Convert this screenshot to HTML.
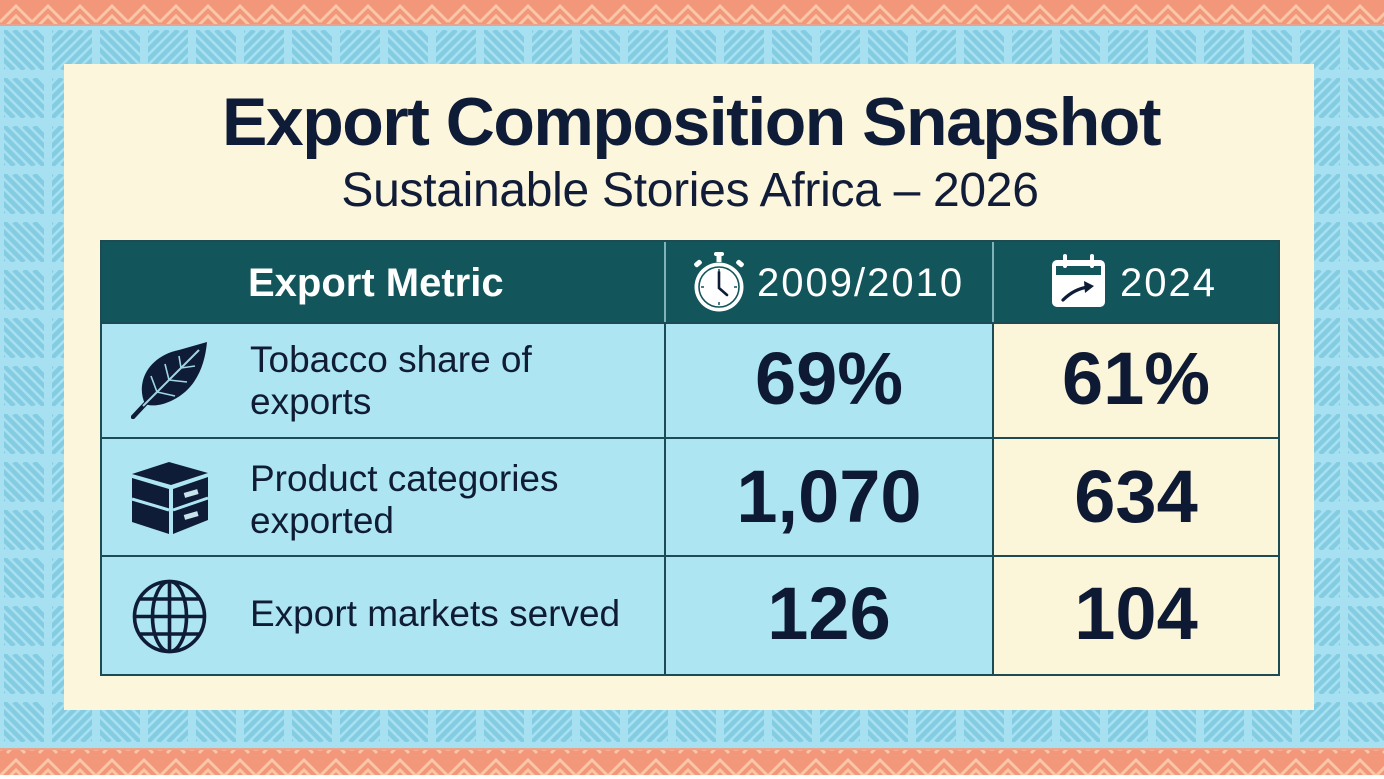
<!DOCTYPE html>
<html>
<head>
<meta charset="utf-8">
<style>
  html,body{margin:0;padding:0;}
  body{width:1384px;height:779px;position:relative;overflow:hidden;background:#ffffff;font-family:"Liberation Sans",Arial,sans-serif;}
  .abs{position:absolute;}
  .panel{left:64px;top:64px;width:1250px;height:646px;background:#fcf6dd;}
  .title{left:0;top:88px;width:1382px;text-align:center;font-size:68px;line-height:68px;font-weight:bold;color:#0f1c38;letter-spacing:-1.5px;white-space:nowrap;}
  .sub{left:0;top:167px;width:1380px;text-align:center;font-size:48px;line-height:48px;color:#111d38;letter-spacing:-0.3px;white-space:nowrap;}
  .tbl{left:100px;top:240px;width:1180px;height:436px;background:#1c4b53;}
  .hcell{background:#12555b;}
  .blue{background:#ade5f2;}
  .cream{background:#fbf5da;}
  .htxt{color:#ffffff;font-size:40px;line-height:40px;white-space:nowrap;}
  .lbl{left:250px;color:#101c33;font-size:37px;line-height:42px;white-space:nowrap;}
  .val{color:#0e1a33;font-size:74px;line-height:74px;font-weight:bold;text-align:center;white-space:nowrap;}
</style>
</head>
<body>

<svg class="abs" style="left:0;top:0" width="1384" height="779" viewBox="0 0 1384 779">
  <defs>
    <clipPath id="cA"><rect x="4" y="4" width="40" height="40"/></clipPath>
    <clipPath id="cB"><rect x="52" y="4" width="40" height="40"/></clipPath>
    <pattern id="bp" width="96" height="48" patternUnits="userSpaceOnUse" patternTransform="translate(0,26)">
      <rect width="96" height="48" fill="#a6e0f1"/>
      <g clip-path="url(#cA)" stroke="#84cce2" stroke-width="4.5">
        <path d="M-36 4L4 44M-26 4L14 44M-16 4L24 44M-6 4L34 44M4 4L44 44M14 4L54 44M24 4L64 44M34 4L74 44"/>
      </g>
      <g clip-path="url(#cB)" stroke="#84cce2" stroke-width="4.5">
        <path d="M12 44L52 4M22 44L62 4M32 44L72 4M42 44L82 4M52 44L92 4M62 44L102 4M72 44L112 4M82 44L122 4M92 44L132 4"/>
      </g>
    </pattern>
    <pattern id="op" width="32" height="26" patternUnits="userSpaceOnUse">
      <rect width="32" height="26" fill="#f3977a"/>
      <g fill="none" stroke="#f9c6a8" stroke-width="3">
        <polyline points="0,22 16,6 32,22"/>
        <polyline points="7,25 16,16 25,25"/>
      </g>
    </pattern>
  </defs>
  <rect x="0" y="25" width="1384" height="724" fill="url(#bp)"/>
  <rect x="0" y="0" width="1384" height="25" fill="url(#op)"/>
  <rect x="0" y="24" width="1384" height="2" fill="#e9a58c"/>
  <rect x="0" y="749" width="1384" height="26" fill="url(#op)"/>
  <rect x="0" y="748" width="1384" height="2" fill="#e9a58c"/>
</svg>

<div class="abs panel"></div>

<div class="abs title">Export Composition Snapshot</div>
<div class="abs sub">Sustainable Stories Africa – 2026</div>

<!-- table -->
<div class="abs tbl"></div>
<!-- header cells -->
<div class="abs hcell" style="left:102px;top:242px;width:562px;height:80px;"></div>
<div class="abs hcell" style="left:666px;top:242px;width:326px;height:80px;"></div>
<div class="abs hcell" style="left:994px;top:242px;width:284px;height:80px;"></div>
<div class="abs" style="left:664px;top:242px;width:2px;height:80px;background:#7fb3b8;"></div>
<div class="abs" style="left:992px;top:242px;width:2px;height:80px;background:#7fb3b8;"></div>
<!-- row 1 -->
<div class="abs blue" style="left:102px;top:324px;width:562px;height:113px;"></div>
<div class="abs blue" style="left:666px;top:324px;width:326px;height:113px;"></div>
<div class="abs cream" style="left:994px;top:324px;width:284px;height:113px;"></div>
<!-- row 2 -->
<div class="abs blue" style="left:102px;top:439px;width:562px;height:116px;"></div>
<div class="abs blue" style="left:666px;top:439px;width:326px;height:116px;"></div>
<div class="abs cream" style="left:994px;top:439px;width:284px;height:116px;"></div>
<!-- row 3 -->
<div class="abs blue" style="left:102px;top:557px;width:562px;height:117px;"></div>
<div class="abs blue" style="left:666px;top:557px;width:326px;height:117px;"></div>
<div class="abs cream" style="left:994px;top:557px;width:284px;height:117px;"></div>

<!-- header text -->
<div class="abs htxt" style="left:248px;top:263px;font-weight:bold;">Export Metric</div>

<svg class="abs" style="left:692px;top:252px" width="54" height="60" viewBox="0 0 54 60">
  <rect x="22" y="0" width="10" height="4" rx="2" fill="#fff"/>
  <rect x="24.5" y="2" width="5" height="8" fill="#fff"/>
  <rect x="2" y="9" width="8" height="5" rx="2" transform="rotate(-40 6 11.5)" fill="#fff"/>
  <rect x="44" y="9" width="8" height="5" rx="2" transform="rotate(40 48 11.5)" fill="#fff"/>
  <circle cx="27" cy="35" r="24.5" fill="#fff"/>
  <circle cx="27" cy="35" r="20" fill="none" stroke="#12555b" stroke-width="1.6"/>
  <path d="M27 20V36L35 43" fill="none" stroke="#0f1c38" stroke-width="2.6" stroke-linecap="round"/>
  <g stroke="#12555b" stroke-width="1.5">
    <path d="M27 17v3M27 50v3M9 35h3M42 35h3"/>
  </g>
</svg>
<div class="abs htxt" style="left:757px;top:263px;letter-spacing:2px;">2009/2010</div>

<svg class="abs" style="left:1051px;top:254px" width="55" height="54" viewBox="0 0 55 54">
  <rect x="1" y="6" width="53" height="47" rx="5" fill="#fff"/>
  <rect x="5" y="12" width="45" height="9" fill="#12555b"/>
  <rect x="12" y="0" width="4" height="14" rx="2" fill="#fff"/>
  <rect x="39" y="0" width="4" height="14" rx="2" fill="#fff"/>
  <path d="M12 46C20 38 28 34 38 33" fill="none" stroke="#0f1c38" stroke-width="3.2" stroke-linecap="round"/>
  <path d="M33 27L43 32L34 39Z" fill="#0f1c38"/>
</svg>
<div class="abs htxt" style="left:1120px;top:263px;letter-spacing:2px;">2024</div>

<!-- row labels -->
<svg class="abs" style="left:131px;top:342px" width="77" height="77" viewBox="0 0 77 77">
  <path d="M14 62C4 40 18 14 48 8L76 0C74 22 66 46 42 58C32 63 22 65 14 62Z" fill="#0f1c38"/>
  <path d="M2 75L16 60" stroke="#0f1c38" stroke-width="4.5" stroke-linecap="round"/>
  <path d="M12 64L68 8" stroke="#9fd6e6" stroke-width="2"/>
  <path d="M26 50L20 34M38 38L34 22M50 26L48 14M26 50L44 54M38 38L56 40M50 26L64 24" stroke="#9fd6e6" stroke-width="1.6" fill="none"/>
</svg>
<div class="abs lbl" style="top:339px;">Tobacco share of<br>exports</div>

<svg class="abs" style="left:131px;top:460px" width="78" height="76" viewBox="0 0 78 76">
  <polygon points="1,14 38,2 77,13 40,25" fill="#0f1c38"/>
  <polygon points="1,18 38,29 38,74 1,62" fill="#0f1c38"/>
  <polygon points="42,29 77,17 77,60 42,74" fill="#0f1c38"/>
  <path d="M1 39L38 50M42 50L77 38" stroke="#ade5f2" stroke-width="3"/>
  <rect x="53" y="31" width="14" height="5" fill="#c7e3ec" transform="rotate(-16 60 33)"/>
  <rect x="53" y="53" width="14" height="5" fill="#c7e3ec" transform="rotate(-16 60 55)"/>
</svg>
<div class="abs lbl" style="top:458px;">Product categories<br>exported</div>

<svg class="abs" style="left:131px;top:578px" width="77" height="77" viewBox="0 0 77 77">
  <g fill="none" stroke="#0f1c38" stroke-width="3.6">
    <circle cx="38.5" cy="38.5" r="35"/>
    <ellipse cx="38.5" cy="38.5" rx="17" ry="35"/>
    <path d="M38.5 3.5V73.5M3.5 38.5H73.5M8 21H69M8 56H69"/>
  </g>
</svg>
<div class="abs lbl" style="top:593px;">Export markets served</div>

<!-- values -->
<div class="abs val" style="left:666px;width:326px;top:342px;">69%</div>
<div class="abs val" style="left:994px;width:284px;top:342px;">61%</div>
<div class="abs val" style="left:666px;width:326px;top:460px;">1,070</div>
<div class="abs val" style="left:994px;width:284px;top:460px;">634</div>
<div class="abs val" style="left:666px;width:326px;top:577px;">126</div>
<div class="abs val" style="left:994px;width:284px;top:577px;">104</div>

</body>
</html>
